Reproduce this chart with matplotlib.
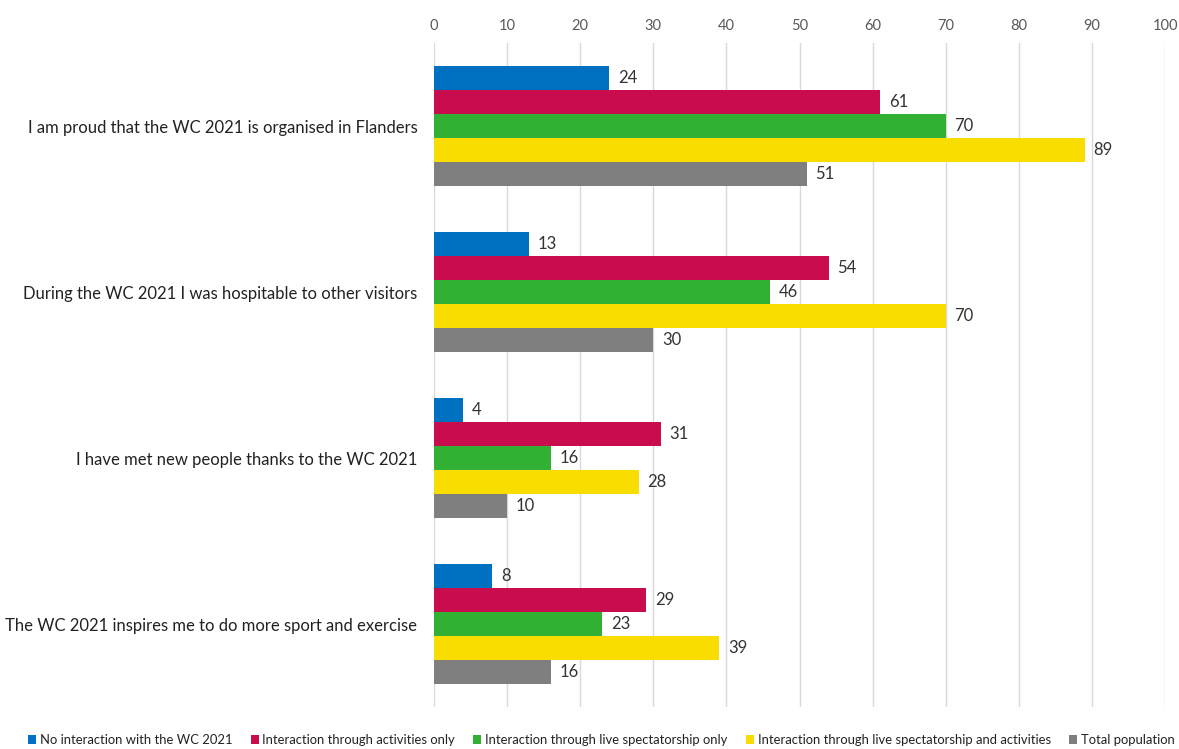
import numpy as np
import matplotlib.pyplot as plt

plt.rcParams["font.family"] = ["Lato", "DejaVu Sans"]

statements = [
    "I am proud that the WC 2021 is organised in Flanders",
    "During the WC 2021 I was hospitable to other visitors",
    "I have met new people thanks to the WC 2021",
    "The WC 2021 inspires me to do more sport and exercise",
]
groups = [
    "No interaction with the WC 2021",
    "Interaction through activities only",
    "Interaction through live spectatorship only",
    "Interaction through live spectatorship and activities",
    "Total population",
]
no_interaction = [24, 13, 4, 8]
activities_only = [61, 54, 31, 29]
spectatorship_only = [70, 46, 16, 23]
spectatorship_activities = [89, 70, 28, 39]
total_population = [51, 30, 10, 16]

series = [no_interaction, activities_only, spectatorship_only,
          spectatorship_activities, total_population]
colors = ["#0070C0", "#C80C4D", "#32B034", "#F9DC00", "#7F7F7F"]

fig = plt.figure(figsize=(11.79, 7.49), dpi=100)
ax = fig.add_axes([434 / 1179, 1 - 707 / 749, (1165 - 434) / 1179, (707 - 43) / 749])

y = np.arange(len(statements))
h = 0.145
for i, (vals, col, name) in enumerate(zip(series, colors, groups)):
    pos = y + (i - 2) * h
    bars = ax.barh(pos, vals, height=h, color=col, label=name, zorder=3)
    for b, v in zip(bars, vals):
        ax.text(v + 1.2, b.get_y() + h / 2, str(v), va="center", ha="left",
                fontsize=12, color="#333333")

ax.set_xlim(0, 100)
ax.set_ylim(len(statements) - 0.5, -0.5)
ax.set_xticks(range(0, 101, 10))
ax.xaxis.tick_top()
ax.tick_params(axis="x", length=0, pad=7, labelsize=10.5, labelcolor="#595959")
ax.set_yticks(y)
ax.set_yticklabels(statements, fontsize=12, color="#222222")
ax.tick_params(axis="y", length=0, pad=12)
ax.grid(axis="x", color="#D9D9D9", linewidth=1, zorder=0)
for s in ax.spines.values():
    s.set_visible(False)

fig.legend(loc="lower center", bbox_to_anchor=(0.51, -0.012), ncol=5, frameon=False,
           fontsize=9.4, handlelength=0.6, handleheight=0.6, handletextpad=0.3,
           columnspacing=1.4, labelcolor="#222222")

fig.savefig("out.png", dpi=100)
